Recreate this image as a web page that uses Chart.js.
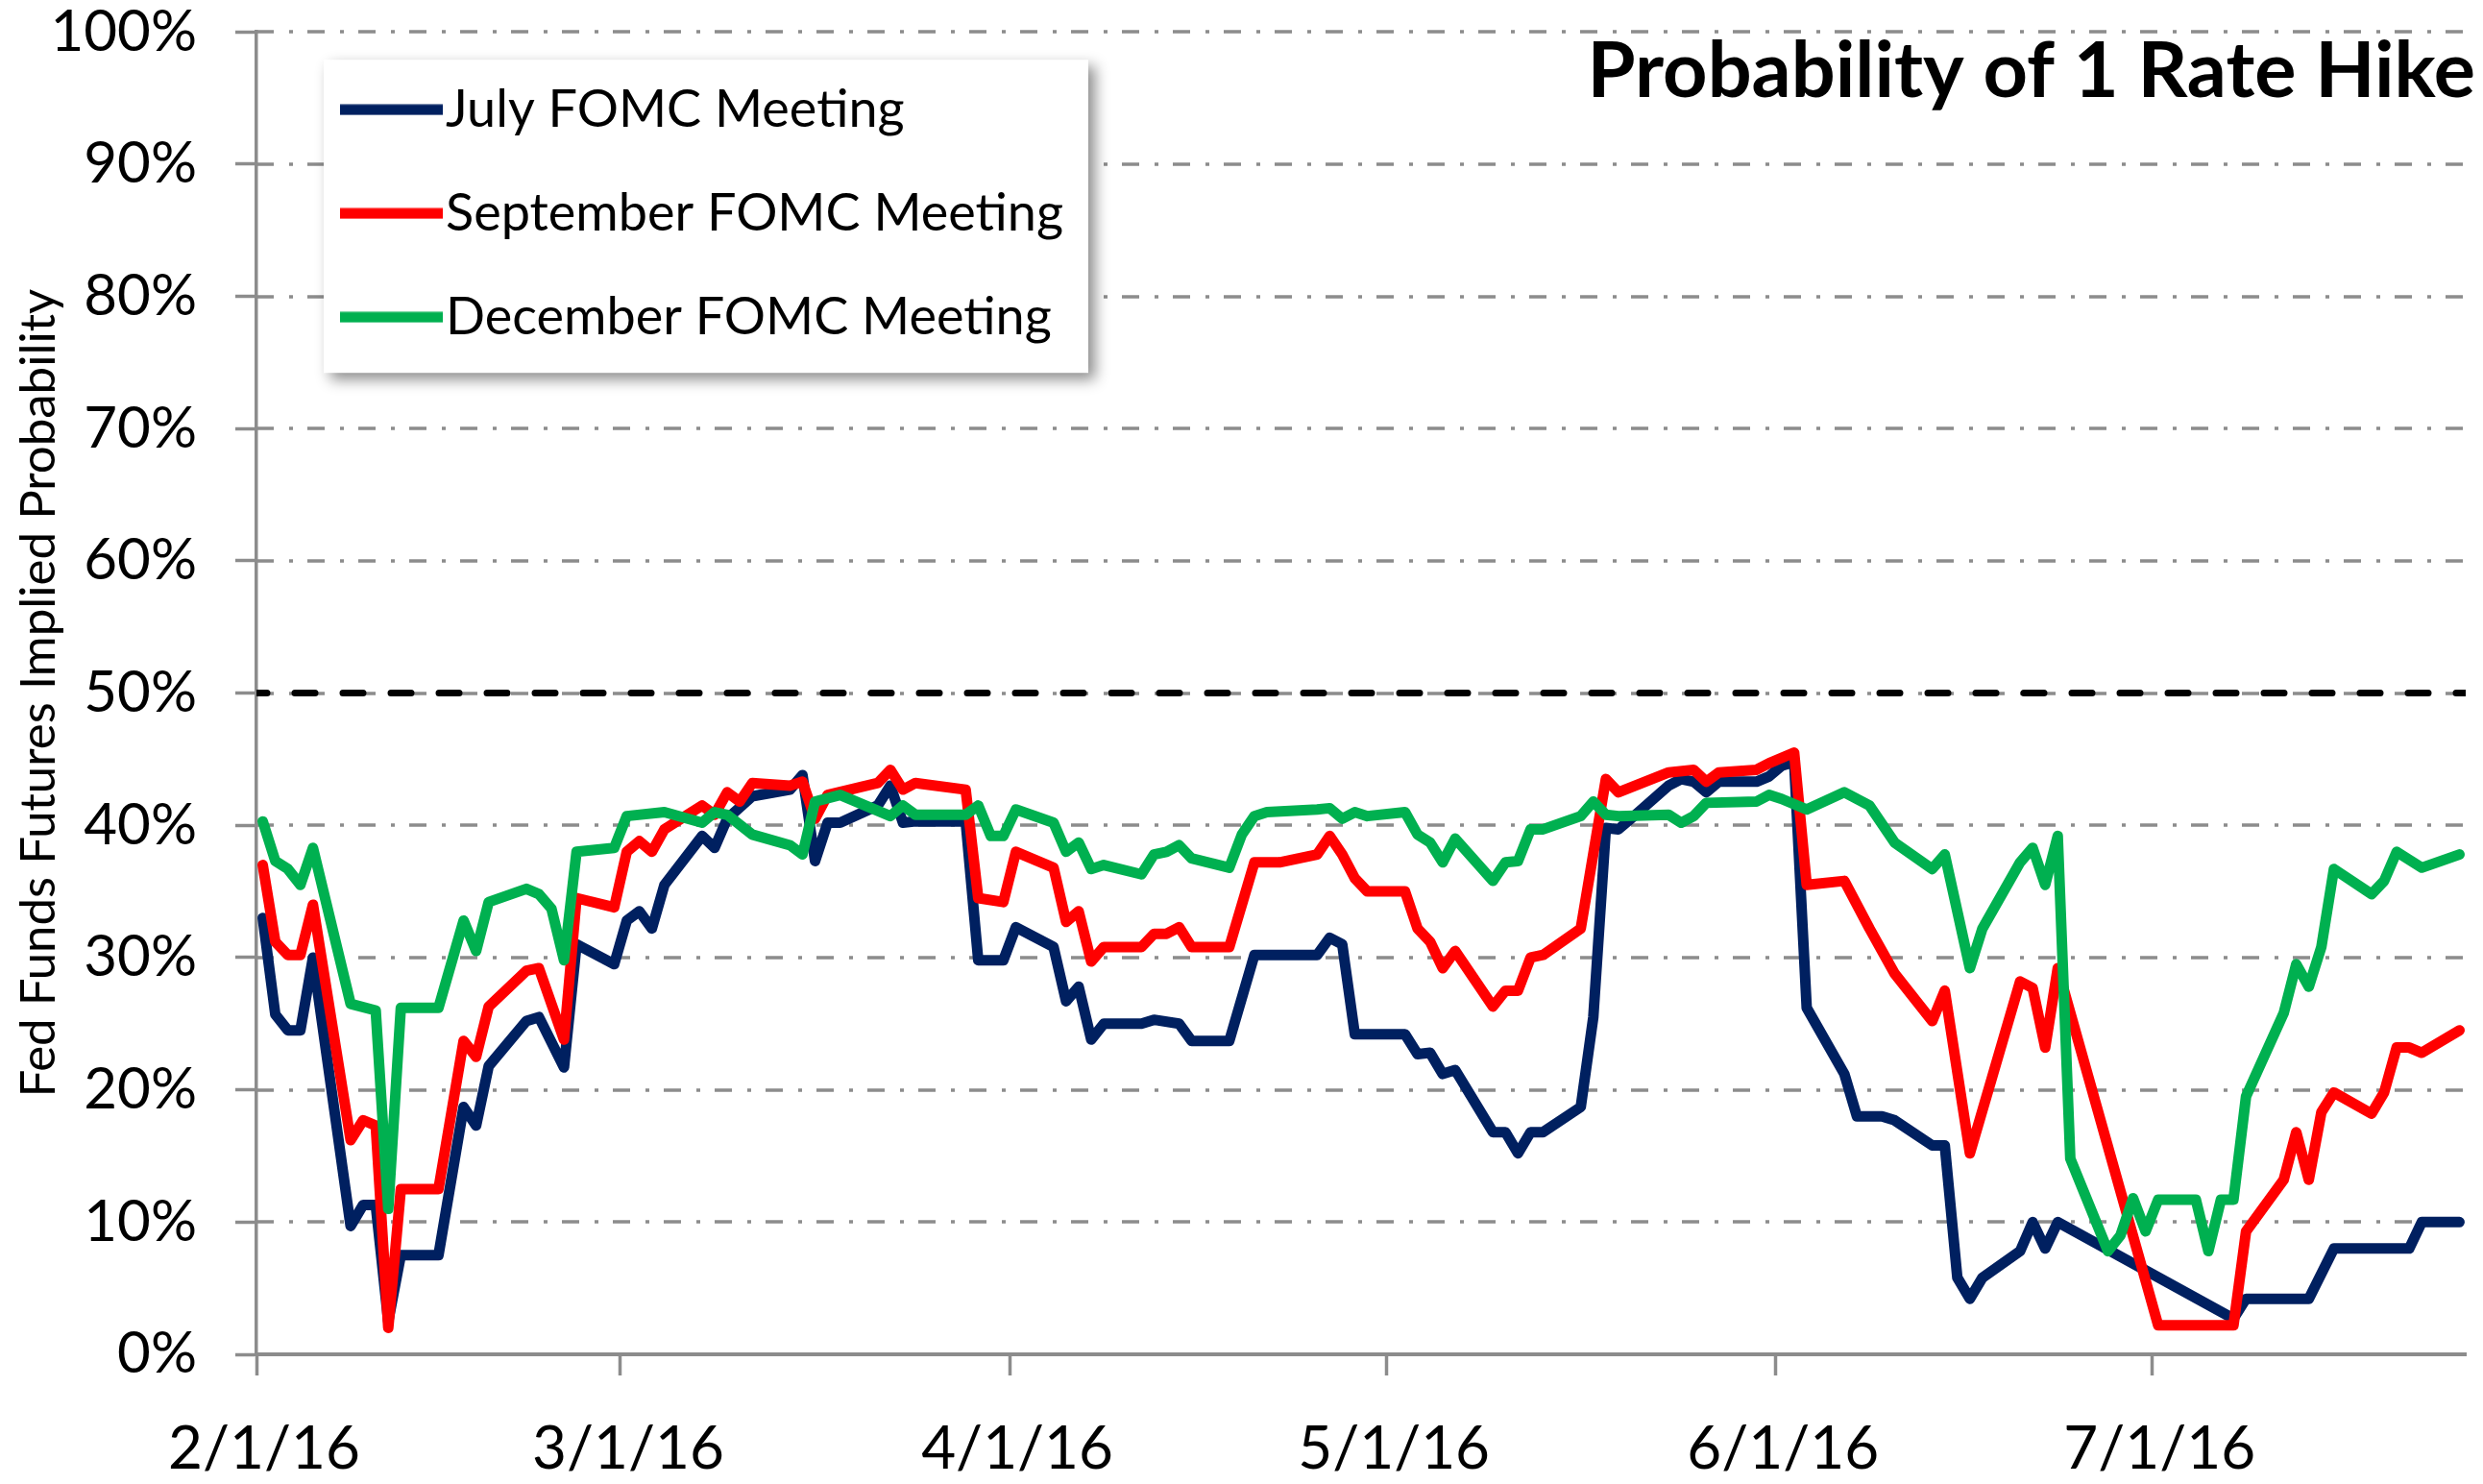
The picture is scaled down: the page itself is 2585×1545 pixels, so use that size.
<!DOCTYPE html>
<html>
<head>
<meta charset="utf-8">
<script src="https://cdn.jsdelivr.net/npm/chart.js@4.4.0/dist/chart.umd.min.js"></script>
<style>
  html, body { margin: 0; padding: 0; background: #ffffff; }
  #wrap { width: 2585px; height: 1545px; position: relative; }
  canvas { display: block; }
</style>
</head>
<body>
<div id="wrap"><canvas id="chart" width="2585" height="1545"></canvas></div>
<script>
// ---------------- DATA ----------------
const chartTitle = 'Probability of 1 Rate Hike';
const yAxisTitle = 'Fed Funds Futures Implied Probability';
const seriesNames = ['July FOMC Meeting', 'September FOMC Meeting', 'December FOMC Meeting'];
const xTickLabels = ['2/1/16', '3/1/16', '4/1/16', '5/1/16', '6/1/16', '7/1/16'];
const axisStartDate = '2/1/16';
const axisEndDate = '7/26/16';
const yTickValues = [0, 10, 20, 30, 40, 50, 60, 70, 80, 90, 100];
const threshold = 50;

const julyDates = ['2/1','2/2','2/3','2/4','2/5','2/8','2/9','2/10','2/11','2/12','2/15','2/17','2/18','2/19','2/22','2/23','2/25','2/26','2/29',
  '3/1','3/2','3/3','3/4','3/7','3/8','3/9','3/11','3/14','3/15','3/16','3/17','3/18','3/21','3/22','3/23','3/24','3/28','3/29','3/31',
  '4/1','4/4','4/5','4/6','4/7','4/8','4/11','4/12','4/14','4/15','4/18','4/20','4/25','4/26','4/27','4/28',
  '5/2','5/3','5/4','5/5','5/6','5/9','5/10','5/11','5/12','5/13','5/16','5/17','5/18','5/19','5/20','5/23','5/24','5/25','5/26','5/27','5/30','5/31',
  '6/1','6/2','6/3','6/6','6/7','6/9','6/10','6/13','6/14','6/15','6/16','6/17','6/20','6/21','6/22','6/23',
  '7/7','7/8','7/13','7/15','7/21','7/22','7/25'];
const julyValues = [33,25.7,24.5,24.5,30,9.7,11.3,11.3,2.5,7.5,7.5,18.7,17.3,21.8,25.2,25.5,21.7,31,29.5,
  32.8,33.5,32.2,35.5,39.2,38.3,40.5,42.2,42.7,43.8,37.3,40.2,40.2,41.5,43,40.2,40.3,40.3,29.8,29.8,
  32.3,30.8,26.7,27.8,23.8,25,25,25.3,25,23.7,23.7,30.2,30.2,31.5,31,24.2,
  24.2,22.7,22.8,21.2,21.5,16.8,16.8,15.2,16.8,16.8,18.7,25.5,39.8,39.7,40.5,43,43.5,43.3,42.5,43.3,43.3,43.7,
  44.5,44.8,26.2,21.2,18,18,17.7,15.8,15.8,5.8,4.2,5.8,7.8,10,8,10,
  2.7,4.2,4.2,8,8,10,10];

const sepDates = ['2/1','2/2','2/3','2/4','2/5','2/8','2/9','2/10','2/11','2/12','2/15','2/17','2/18','2/19','2/22','2/23','2/25','2/26','2/29',
  '3/1','3/2','3/3','3/4','3/7','3/8','3/9','3/10','3/11','3/14','3/15','3/16','3/17','3/21','3/22','3/23','3/24','3/28','3/29','3/31',
  '4/1','4/4','4/5','4/6','4/7','4/8','4/11','4/12','4/13','4/14','4/15','4/18','4/20','4/22','4/25','4/26','4/27','4/28','4/29',
  '5/2','5/3','5/4','5/5','5/6','5/9','5/10','5/11','5/12','5/13','5/16','5/18','5/19','5/23','5/25','5/26','5/27','5/30','5/31',
  '6/2','6/3','6/6','6/8','6/10','6/13','6/14','6/16','6/20','6/21','6/22','6/23',
  '7/1','7/7','7/8','7/11','7/12','7/13','7/14','7/15','7/18','7/19','7/20','7/21','7/22','7/25'];
const sepValues = [37,31.2,30.2,30.2,34,16.2,17.7,17.3,2,12.5,12.5,23.7,22.5,26.3,29,29.2,23.8,34.5,33.8,
  38,38.8,38,39.7,41.5,40.8,42.5,41.8,43.2,43,43.3,40.5,42.3,43.2,44.2,42.7,43.2,42.7,34.5,34.2,
  38,36.8,32.7,33.5,29.7,30.8,30.8,31.8,31.8,32.3,30.8,30.8,37.2,37.2,37.8,39.2,37.8,36,35,
  35,32.2,31.2,29.2,30.5,26.3,27.5,27.5,30,30.2,32.2,43.5,42.5,44,44.2,43.3,44,44.2,44.7,
  45.5,35.5,35.8,32.2,28.8,25.2,27.5,15.2,28.2,27.7,23.2,29.2,
  2.2,2.2,9.3,13.2,16.8,13.2,18.3,19.8,18.2,19.8,23.2,23.2,22.8,24.5];

const decDates = ['2/1','2/2','2/3','2/4','2/5','2/8','2/10','2/11','2/12','2/15','2/17','2/18','2/19','2/22','2/23','2/24','2/25','2/26','2/29',
  '3/1','3/4','3/7','3/8','3/9','3/11','3/14','3/15','3/16','3/18','3/22','3/23','3/24','3/28','3/29','3/30','3/31',
  '4/1','4/4','4/5','4/6','4/7','4/8','4/11','4/12','4/13','4/14','4/15','4/18','4/19','4/20','4/21','4/25','4/26','4/27','4/28','4/29',
  '5/2','5/3','5/4','5/5','5/6','5/9','5/10','5/11','5/12','5/13','5/16','5/17','5/18','5/19','5/23','5/24','5/25','5/26','5/30','5/31',
  '6/1','6/3','6/6','6/8','6/10','6/13','6/14','6/16','6/17','6/20','6/21','6/22','6/23','6/24','6/27','6/28','6/29','6/30',
  '7/1','7/4','7/5','7/6','7/7','7/8','7/11','7/12','7/13','7/14','7/15','7/18','7/19','7/20','7/22','7/25'];
const decValues = [40.3,37.3,36.7,35.5,38.3,26.5,26,11,26.2,26.2,32.8,30.5,34.2,35.2,34.8,33.7,29.8,38,38.3,
  40.7,41,40.2,41,40.8,39.3,38.5,37.8,41.8,42.3,40.7,41.5,40.8,40.8,41.5,39.2,39.2,
  41.2,40.2,38,38.7,36.7,37,36.3,37.8,38,38.5,37.5,36.8,39.3,40.7,41,41.2,41.3,40.5,41,40.7,
  41,39.3,38.7,37.2,39,35.8,37.2,37.3,39.7,39.7,40.7,41.8,40.8,40.7,40.8,40.2,40.7,41.7,41.8,42.3,
  42,41.2,42.5,41.5,38.7,36.7,37.8,29.2,32.2,37.2,38.3,35.5,39.2,14.8,7.8,9,11.8,9.3,
  11.7,11.7,7.8,11.7,11.7,19.5,25.8,29.5,27.8,30.8,36.7,34.8,35.8,38,36.8,37.8];

// ---------------- HELPERS ----------------
const MS_DAY = 86400000;
function parseDate(s) {
  const p = s.split('/').map(Number);
  const y = p.length > 2 ? 2000 + p[2] : 2016;
  return Date.UTC(y, p[0] - 1, p[1]);
}
const origin = parseDate(axisStartDate);
function dayOf(s) { return (parseDate(s) - origin) / MS_DAY; }
// Excel date axis: each daily point sits in the middle of its day slot
function toPoints(dates, values) {
  return dates.map((d, i) => ({ x: dayOf(d) + 0.5, y: values[i] }));
}

const xMin = dayOf(axisStartDate);
const xMax = dayOf(axisEndDate);
const tickDays = xTickLabels.map(dayOf);

const FONT = 'Lato, "Open Sans", "DejaVu Sans", sans-serif';
const GRID_GRAY = '#8c8c8c';
const colors = ['#002060', '#ff0000', '#00b050'];

// legend line swatch (runs right up to the label text, like Excel)
const LEGEND_BOX = 78;
function legendSwatch(color) {
  const c = document.createElement('canvas');
  c.width = LEGEND_BOX + 48;
  c.height = 12;
  const g = c.getContext('2d');
  g.fillStyle = color;
  g.fillRect(19, 0.5, c.width - 19, 11);
  return c;
}

// ---------------- PLUGIN: Excel-like dash-dot grid + legend frame ----------------
const excelBackdrop = {
  id: 'excelBackdrop',
  beforeDraw(chart) {
    const { ctx, chartArea, scales } = chart;
    const y = scales.y;
    ctx.save();
    ctx.strokeStyle = GRID_GRAY;
    ctx.lineWidth = 3.5;
    ctx.setLineDash([18, 16, 4, 15]);
    y.ticks.forEach(t => {
      if (t.value === 0) return;
      const py = Math.round(y.getPixelForValue(t.value));
      ctx.beginPath();
      ctx.moveTo(chartArea.left, py);
      ctx.lineTo(chartArea.right, py);
      ctx.stroke();
    });
    ctx.restore();

    // position the legend inside the plot area
    const lg = chart.legend;
    if (lg) {
      const pad = lg.options.labels.padding;
      lg.left = chartArea.left + 92 - pad;
      lg.top = chartArea.top;
      lg.right = chartArea.right;
      lg.bottom = chartArea.bottom;
      // white legend frame with soft shadow
      const bx = chartArea.left + 70, by = chartArea.top + 29, bw = 796, bh = 326;
      ctx.save();
      ctx.shadowColor = 'rgba(0,0,0,0.45)';
      ctx.shadowBlur = 14;
      ctx.shadowOffsetX = 7;
      ctx.shadowOffsetY = 7;
      ctx.fillStyle = '#ffffff';
      ctx.fillRect(bx, by, bw, bh);
      ctx.restore();
    }
  }
};

// ---------------- CHART ----------------
const ctx = document.getElementById('chart').getContext('2d');
new Chart(ctx, {
  type: 'line',
  data: {
    datasets: [
      { label: seriesNames[0], data: toPoints(julyDates, julyValues), borderColor: colors[0], order: 3 },
      { label: seriesNames[1], data: toPoints(sepDates, sepValues), borderColor: colors[1], order: 2 },
      { label: seriesNames[2], data: toPoints(decDates, decValues), borderColor: colors[2], order: 1 },
      { label: '50% threshold', data: [{ x: xMin, y: threshold }, { x: xMax, y: threshold }],
        borderColor: '#000000', borderWidth: 7, borderDash: [21, 29], borderDashOffset: 10,
        borderCapStyle: 'round', order: 0 }
    ]
  },
  options: {
    responsive: false,
    devicePixelRatio: 1,
    animation: false,
    elements: {
      line: { borderWidth: 11, tension: 0, fill: false, borderJoinStyle: 'round', borderCapStyle: 'round' },
      point: { radius: 0, hoverRadius: 0 }
    },
    layout: { padding: { left: 0, right: 8, top: 0, bottom: 0 } },
    plugins: {
      title: {
        display: true,
        text: chartTitle,
        align: 'end',
        color: '#000000',
        font: { family: FONT, size: 81, weight: 'bold', lineHeight: 1.2 },
        padding: { top: 26, bottom: -90 }
      },
      legend: {
        display: true,
        position: 'chartArea',
        align: 'start',
        labels: {
          usePointStyle: true,
          pointStyleWidth: LEGEND_BOX,
          padding: 54,
          color: '#000000',
          font: { family: FONT, size: 54 },
          generateLabels: (chart) => chart.data.datasets.slice(0, 3).map((ds, i) => ({
            text: ds.label,
            strokeStyle: ds.borderColor,
            fillStyle: ds.borderColor,
            lineWidth: 0,
            pointStyle: legendSwatch(ds.borderColor),
            rotation: 0,
            hidden: false,
            datasetIndex: i,
            fontColor: '#000000'
          }))
        }
      },
      tooltip: { enabled: false }
    },
    scales: {
      x: {
        type: 'linear',
        min: xMin,
        max: xMax,
        afterBuildTicks: (axis) => { axis.ticks = tickDays.map(v => ({ value: v })); },
        afterFit: (axis) => { axis.height = 135; axis.paddingRight = 18; },
        ticks: {
          autoSkip: false,
          maxRotation: 0,
          color: '#000000',
          padding: 40,
          labelOffset: 8,
          font: { family: FONT, size: 62 },
          callback: (v) => { const i = tickDays.indexOf(v); return i >= 0 ? xTickLabels[i] : ''; }
        },
        grid: { drawOnChartArea: false, drawTicks: true, tickLength: 22, tickWidth: 3.5, tickColor: GRID_GRAY, color: GRID_GRAY },
        border: { display: true, color: GRID_GRAY, width: 4 }
      },
      y: {
        min: 0,
        max: 100,
        afterBuildTicks: (axis) => { axis.ticks = yTickValues.map(v => ({ value: v })); },
        afterFit: (axis) => { axis.width = 267; axis.paddingTop = 0; axis.paddingBottom = 0; },
        ticks: {
          color: '#000000',
          padding: 40,
          font: { family: FONT, size: 60, lineHeight: 1.0 },
          callback: (v) => v + '%'
        },
        grid: { drawOnChartArea: false, drawTicks: true, tickLength: 22, tickWidth: 3.5, tickColor: GRID_GRAY, color: GRID_GRAY },
        border: { display: true, color: GRID_GRAY, width: 3.5 },
        title: {
          display: true,
          text: yAxisTitle,
          color: '#000000',
          font: { family: FONT, size: 51 },
          padding: { top: 10, bottom: 0 }
        }
      }
    }
  },
  plugins: [excelBackdrop]
});
</script>
</body>
</html>
